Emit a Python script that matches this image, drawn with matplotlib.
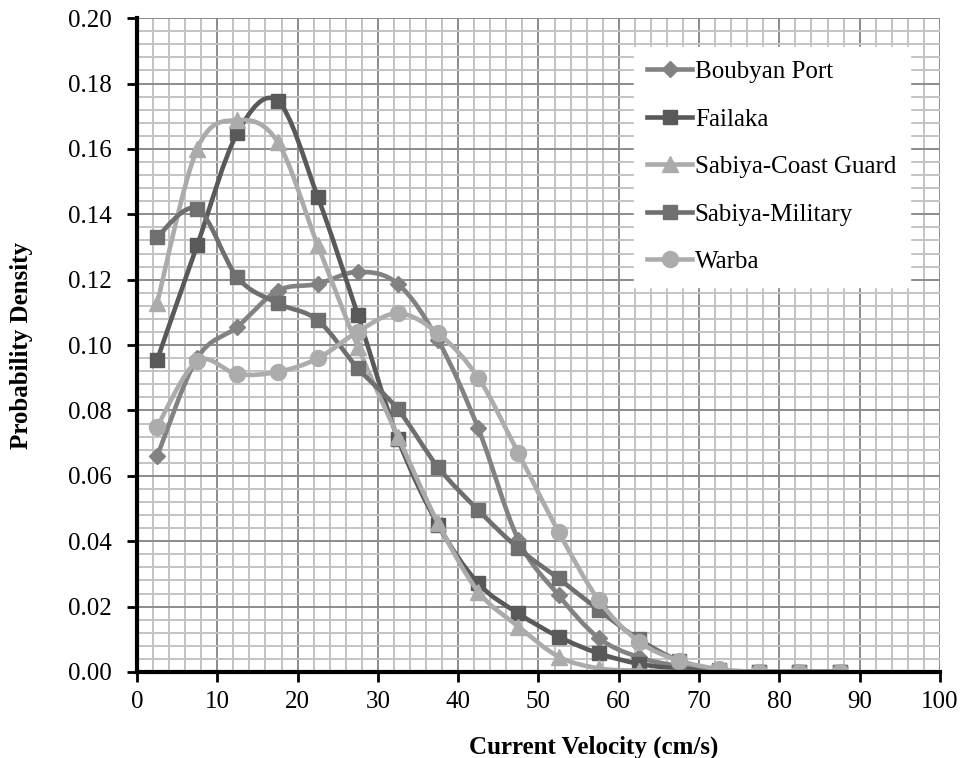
import numpy as np
import matplotlib
matplotlib.use("Agg")
import matplotlib.pyplot as plt
from matplotlib.path import Path
from matplotlib.patches import PathPatch
from matplotlib.lines import Line2D
from matplotlib.ticker import MultipleLocator, FormatStrFormatter

plt.rcParams['font.family'] = ['Liberation Serif', 'DejaVu Serif']

# bin centres of current velocity (cm/s)
velocity = [2.5, 7.5, 12.5, 17.5, 22.5, 27.5, 32.5, 37.5, 42.5,
            47.5, 52.5, 57.5, 62.5, 67.5, 72.5, 77.5, 82.5, 87.5]

boubyan_port = [0.066, 0.096, 0.1056, 0.1166, 0.1187, 0.1224, 0.1187, 0.1015, 0.0745,
                0.0404, 0.0235, 0.0104, 0.0045, 0.0018, 0.0005, 0.0, 0.0, 0.0]
failaka = [0.0954, 0.1306, 0.1649, 0.1747, 0.1454, 0.1092, 0.0713, 0.0450, 0.0271,
           0.0179, 0.0108, 0.0057, 0.0025, 0.0010, 0.0003, 0.0, 0.0, 0.0]
sabiya_coast_guard = [0.1128, 0.1601, 0.1688, 0.1622, 0.1306, 0.0995, 0.0720, 0.0455, 0.0246,
                      0.0139, 0.0047, 0.0011, 0.0004, 0.0, 0.0, 0.0, 0.0, 0.0]
sabiya_military = [0.1331, 0.1417, 0.1207, 0.1128, 0.1076, 0.0929, 0.0803, 0.0626, 0.0495,
                   0.0378, 0.0286, 0.0190, 0.0100, 0.0035, 0.0006, 0.0, 0.0, 0.0]
warba = [0.0750, 0.0951, 0.0911, 0.0918, 0.0959, 0.1041, 0.1097, 0.1036, 0.0900,
         0.0669, 0.0429, 0.0220, 0.0093, 0.0035, 0.0009, 0.0, 0.0, 0.0]

names = ["Boubyan Port", "Failaka", "Sabiya-Coast Guard", "Sabiya-Military", "Warba"]
series = [boubyan_port, failaka, sabiya_coast_guard, sabiya_military, warba]
colors = ["#828282", "#595959", "#ababab", "#6f6f6f", "#acacac"]
markers = ["D", "s", "^", "s", "o"]
msizes = [8.5, 10.5, 11, 10.5, 11.5]


def smooth_path(xs, ys):
    """Cubic Bezier path through the points (Catmull-Rom style smoothing)."""
    pts = np.column_stack([xs, ys]).astype(float)
    ext = np.vstack([pts[0], pts, pts[-1]])
    verts = [pts[0]]
    codes = [Path.MOVETO]
    for i in range(len(pts) - 1):
        p0, p1, p2, p3 = ext[i], ext[i + 1], ext[i + 2], ext[i + 3]
        verts += [p1 + (p2 - p0) / 6.0, p2 - (p3 - p1) / 6.0, p2]
        codes += [Path.CURVE4] * 3
    return Path(verts, codes)


fig = plt.figure(figsize=(9.65, 7.58), dpi=100)
ax = fig.add_axes([0.142, 0.1135, 0.832, 0.8625])

handles = []
for i, (name, ys) in enumerate(zip(names, series)):
    patch = PathPatch(smooth_path(velocity, ys), facecolor="none",
                      edgecolor=colors[i], lw=3.3, zorder=3 + i, capstyle="round")
    ax.add_patch(patch)
    ax.plot(velocity, ys, linestyle="none", marker=markers[i], ms=msizes[i],
            color=colors[i], mec=colors[i], zorder=3 + i)
    handles.append(Line2D([], [], color=colors[i], lw=3.3, marker=markers[i],
                          ms=msizes[i], mec=colors[i]))

ax.set_xlim(0, 100)
ax.set_ylim(0, 0.20)
ax.xaxis.set_major_locator(MultipleLocator(10))
ax.xaxis.set_minor_locator(MultipleLocator(2))
ax.yaxis.set_major_locator(MultipleLocator(0.02))
ax.yaxis.set_minor_locator(MultipleLocator(0.004))
ax.yaxis.set_major_formatter(FormatStrFormatter("%.2f"))

ax.grid(which="minor", color="#c3c3c3", lw=1.4, zorder=0)
ax.grid(which="major", color="#8c8c8c", lw=1.4, zorder=1)
ax.set_axisbelow(True)

for side in ["top", "right"]:
    ax.spines[side].set_visible(False)
for side in ["left", "bottom"]:
    ax.spines[side].set_linewidth(3)
    ax.spines[side].set_zorder(20)

ax.tick_params(which="major", direction="out", length=7, width=2, labelsize=18)
ax.tick_params(axis="y", pad=11)
ax.tick_params(axis="x", pad=7)
ax.tick_params(which="minor", length=0)

ax.set_xlabel("Current Velocity (cm/s)", fontsize=18, fontweight="bold")
ax.xaxis.set_label_coords(0.569, -0.098)
ax.set_ylabel("Probability Density", fontsize=18, fontweight="bold")
ax.yaxis.set_label_coords(-0.1295, 0.5)

leg = ax.legend(handles, names, loc="upper right", bbox_to_anchor=(0.9626, 0.956),
                borderaxespad=0, fontsize=18, frameon=True, fancybox=False,
                framealpha=1, edgecolor="white", handlelength=1.8,
                handletextpad=0.1, labelspacing=1.0, borderpad=0.55, numpoints=1)
leg.set_zorder(30)

fig.savefig("out.png", dpi=100)
